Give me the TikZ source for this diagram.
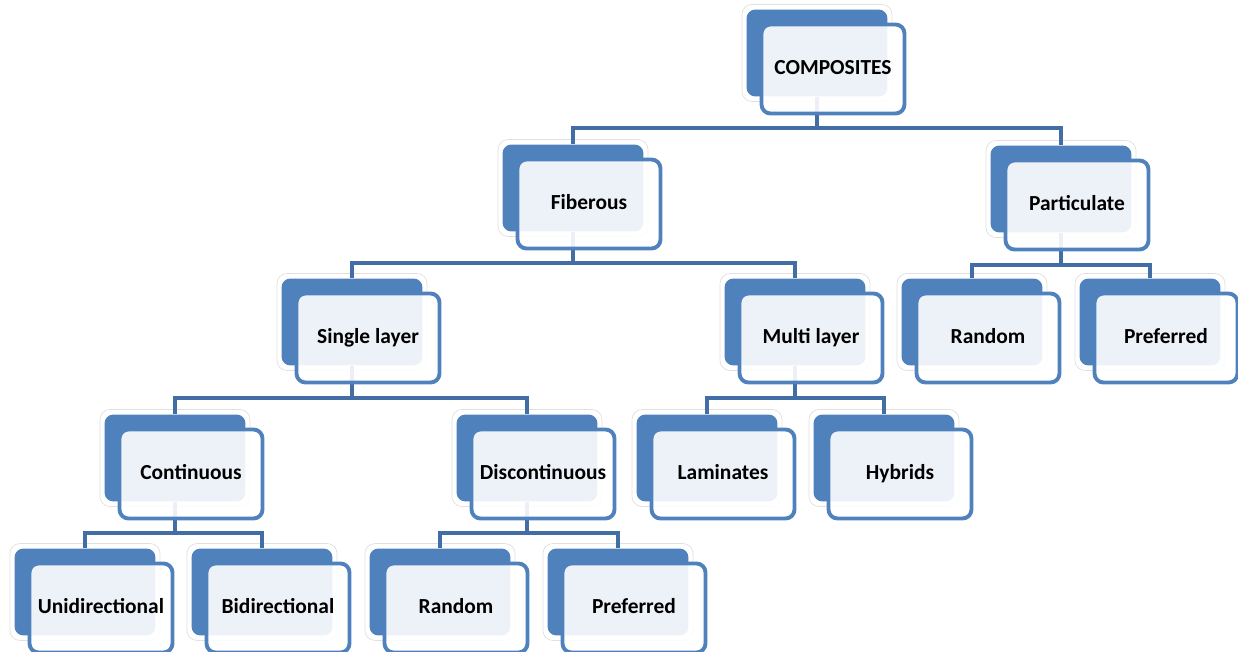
\documentclass[tikz,border=0pt]{standalone}
\usepackage{fontspec}
\setmainfont{Carlito}
\usetikzlibrary{calc}
\definecolor{boxblue}{RGB}{79,129,189}
\definecolor{linkblue}{RGB}{66,110,165}
\tikzset{%
  glowbox/.style={rectangle, rounded corners=0.2cm, draw=black!12, line width=0.4pt, fill=white, minimum width=3.0cm, minimum height=1.94cm, inner sep=0pt},
  backbox/.style={rectangle, rounded corners=0.18cm, fill=boxblue, minimum width=2.82cm, minimum height=1.74cm, inner sep=0pt},
  frontbox/.style={rectangle, rounded corners=0.18cm, draw=boxblue, line width=2.2pt, fill=white, fill opacity=0.9, text opacity=1, draw opacity=1, minimum width=2.86cm, minimum height=1.78cm, inner sep=0pt, text height=1.5ex, text depth=0.3ex, font=\fontsize{12.2}{14}\selectfont\bfseries},
  link/.style={draw=linkblue, line width=2.7pt}
}

\begin{document}
\begin{tikzpicture}[x=0.02cm, y=-0.02cm]
  \useasboundingbox (0,0) rectangle (1238,652);
  % back boxes
  \foreach \n/\x/\y in {comp/817/53, fib/573/188, part/1061/189,
      single/352/322, multi/795/322, prand/972/322, ppref/1150/322,
      cont/175/458, disc/527/458, lam/707/458, hyb/884/458,
      uni/85/592, bi/262/592, rand/440/592, pref/618/592} {
    \node[glowbox] at (\x,\y) {};
    \node[backbox] (\n) at (\x,\y) {};
  }
  % connectors
  \coordinate (comp-j) at (817,128);
  \coordinate (fib-j) at (573,263);
  \coordinate (part-j) at (1061,265);
  \coordinate (single-j) at (352,398);
  \coordinate (multi-j) at (795,398);
  \coordinate (cont-j) at (175,533);
  \coordinate (disc-j) at (527,533);
  \draw[link] (comp.south) -- (comp-j);
  \draw[link] (fib.north) |- (comp-j) -| (part.north);
  \draw[link] (fib.south) -- (fib-j);
  \draw[link] (single.north) |- (fib-j) -| (multi.north);
  \draw[link] (part.south) -- (part-j);
  \draw[link] (prand.north) |- (part-j) -| (ppref.north);
  \draw[link] (single.south) -- (single-j);
  \draw[link] (cont.north) |- (single-j) -| (disc.north);
  \draw[link] (multi.south) -- (multi-j);
  \draw[link] (lam.north) |- (multi-j) -| (hyb.north);
  \draw[link] (cont.south) -- (cont-j);
  \draw[link] (uni.north) |- (cont-j) -| (bi.north);
  \draw[link] (disc.south) -- (disc-j);
  \draw[link] (rand.north) |- (disc-j) -| (pref.north);
  % front boxes
  \foreach \n/\t in {comp/COMPOSITES, fib/Fiberous, part/Particulate,
      single/Single layer, multi/Multi layer, prand/Random, ppref/Preferred,
      cont/Continuous, disc/Discontinuous, lam/Laminates, hyb/Hybrids,
      uni/Unidirectional, bi/Bidirectional, rand/Random, pref/Preferred} {
    \node[frontbox] (\n-f) at ($(\n.center)+(16,16)$) {\t};
  }
\end{tikzpicture}
\end{document}
